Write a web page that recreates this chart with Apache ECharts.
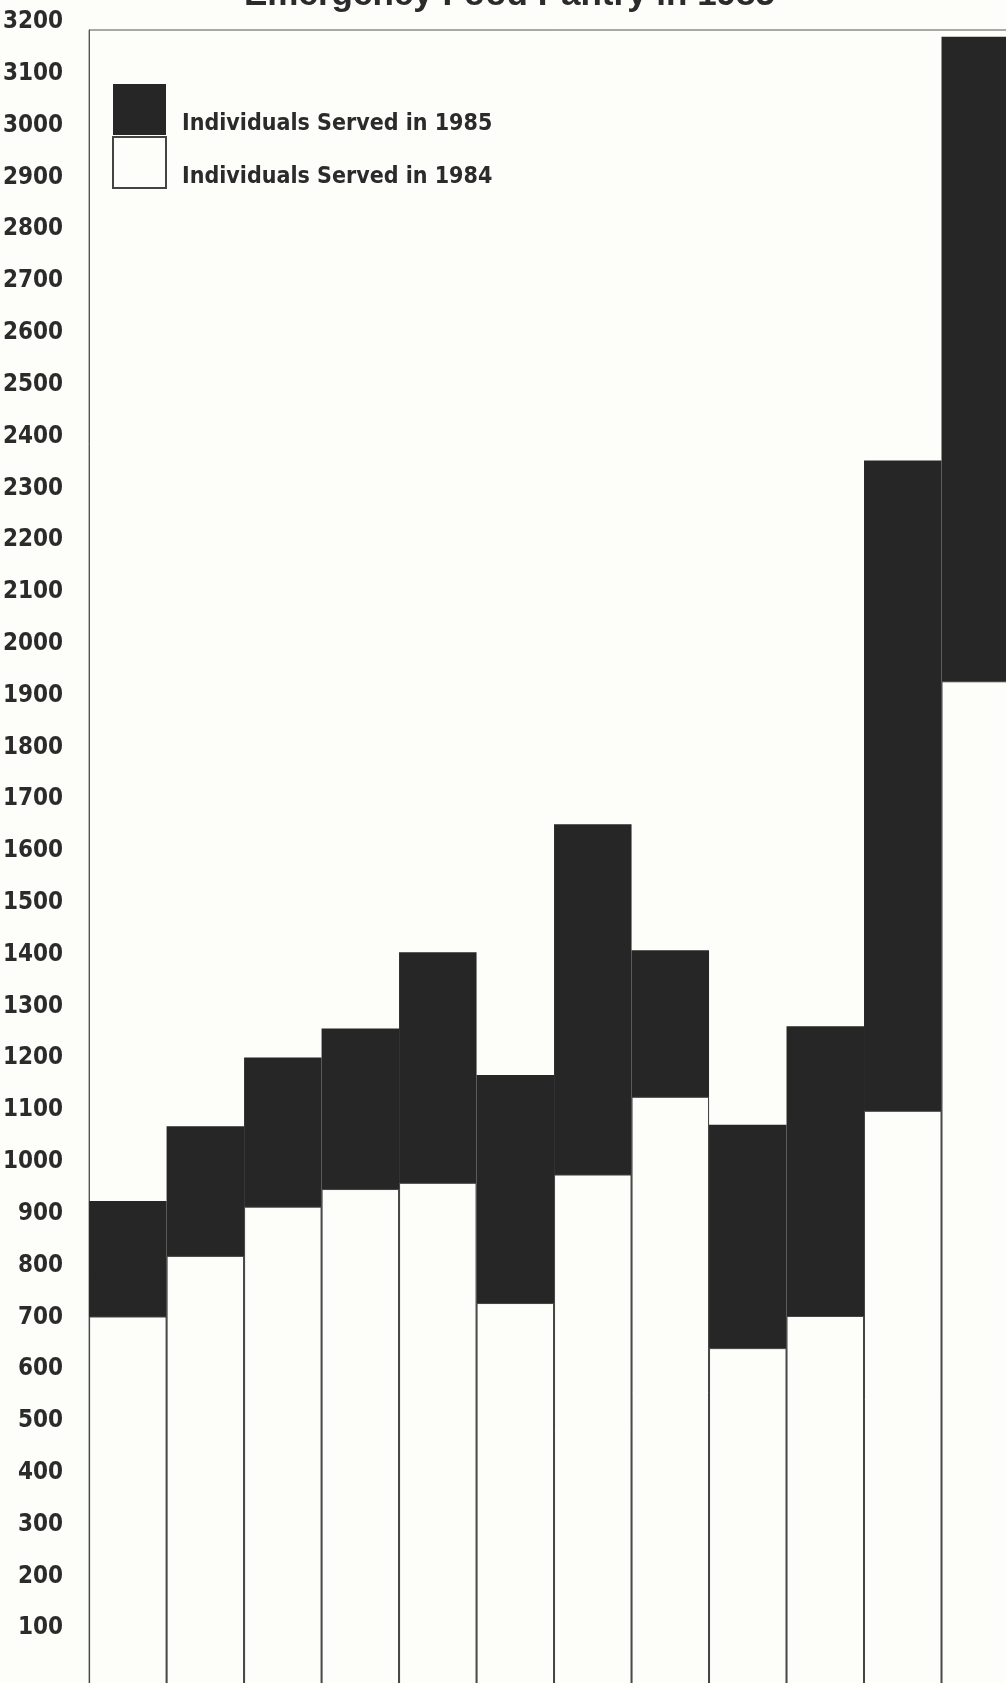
<!DOCTYPE html>
<html>
<head>
<meta charset="utf-8">
<script src="https://cdn.jsdelivr.net/npm/echarts@6/dist/echarts.min.js"></script>
<style>
  html, body { margin: 0; padding: 0; background: #fdfdfa; overflow: hidden; width: 1006px; height: 1683px; }
  #chart { width: 1019px; height: 1688px; }
</style>
</head>
<body>
<div id="chart"></div>
<script>
const titleText = 'Emergency Food Pantry in 1985';
const categories = ['Jan', 'Feb', 'Mar', 'Apr', 'May', 'Jun', 'Jul', 'Aug', 'Sep', 'Oct', 'Nov', 'Dec'];
const served1984 = [717, 834, 929, 963, 975, 743, 991, 1141, 656, 718, 1114, 1943];
const served1985 = [940, 1084, 1217, 1273, 1420, 1183, 1667, 1424, 1087, 1277, 2369, 3187];
const name1985 = 'Individuals Served in 1985';
const name1984 = 'Individuals Served in 1984';

const labelFont = '"Liberation Sans Narrow", "DejaVu Sans Condensed", "Liberation Sans", sans-serif';
const dark = '#262626';
const ink = '#2b2b2b';

const chart = echarts.init(document.getElementById('chart'), null, { renderer: 'canvas' });
chart.setOption({
  backgroundColor: '#fdfdfa',
  animation: false,
  title: {
    text: titleText,
    left: 'center',
    top: -22,
    padding: 0,
    textStyle: {
      fontFamily: '"Liberation Sans", Arial, sans-serif',
      fontWeight: 900,
      fontSize: 35,
      color: ink
    }
  },
  legend: {
    data: [name1985, name1984],
    orient: 'vertical',
    icon: 'rect',
    left: 112,
    top: 83,
    padding: 0,
    itemGap: 0,
    itemWidth: 53,
    itemHeight: 51,
    selectedMode: false,
    formatter: function (name) { return '{t|' + name + '}'; },
    textStyle: {
      fontFamily: labelFont,
      fontWeight: 'bold',
      fontSize: 23,
      color: ink,
      rich: {
        t: {
          fontFamily: labelFont,
          fontWeight: 'bold',
          fontSize: 23,
          color: ink,
          lineHeight: 20,
          padding: [30, 0, 0, 11]
        }
      }
    }
  },
  grid: {
    left: 89,
    right: 0,
    top: 30,
    bottom: 0,
    show: true,
    borderColor: '#555',
    borderWidth: 1,
    backgroundColor: 'transparent',
    containLabel: false
  },
  xAxis: {
    type: 'category',
    data: categories,
    axisLine: { show: false },
    axisTick: { show: false },
    axisLabel: { show: false },
    splitLine: { show: false }
  },
  yAxis: {
    type: 'value',
    min: 0,
    max: 3200,
    interval: 100,
    axisLine: { show: true, lineStyle: { color: '#555', width: 1 } },
    axisTick: { show: false },
    splitLine: { show: false },
    axisLabel: {
      margin: 26,
      fontFamily: labelFont,
      fontWeight: 'bold',
      fontSize: 24,
      color: ink,
      lineHeight: 16,
      verticalAlign: 'bottom',
      formatter: function (v) { return v === 0 ? '' : String(v); }
    }
  },
  series: [
    {
      name: name1985,
      type: 'bar',
      data: served1985,
      barCategoryGap: '0%',
      barGap: '-100%',
      itemStyle: { color: dark, borderWidth: 0 }
    },
    {
      name: name1984,
      type: 'bar',
      data: served1984,
      barCategoryGap: '0%',
      barGap: '-100%',
      itemStyle: { color: '#fdfdfa', borderColor: '#444', borderWidth: 1 }
    }
  ]
});
</script>
</body>
</html>
